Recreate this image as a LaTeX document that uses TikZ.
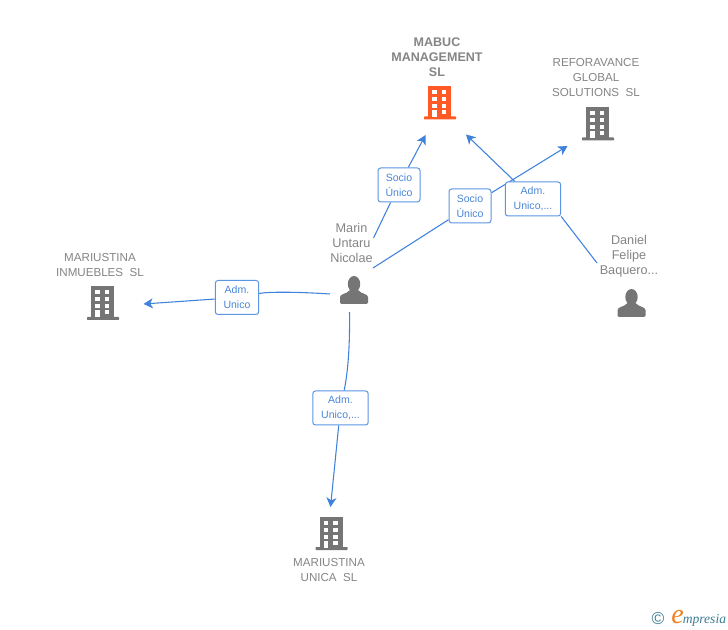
\documentclass[tikz,border=0pt]{standalone}
\usepackage{fontspec}
\setmainfont{Liberation Sans}
\newfontfamily\logofont{Liberation Serif}
\usetikzlibrary{arrows.meta}
\pgfdeclarelayer{paper}
\pgfdeclarelayer{links}
\pgfsetlayers{paper,links,main}
\definecolor{linkblue}{HTML}{3F82DE}
\definecolor{labelblue}{HTML}{4A86D8}
\definecolor{namegrey}{HTML}{858585}
\definecolor{icongrey}{HTML}{757575}
\definecolor{iconorange}{HTML}{FF5A26}
\definecolor{logoteal}{HTML}{3C7F96}
\definecolor{logoorange}{HTML}{F08020}
\tikzset{
  nametext/.style={text=namegrey,font=\fontsize{8.7}{11.25}\selectfont,align=center,inner sep=0pt},
  boldname/.style={nametext,font=\fontsize{9.4}{11.25}\bfseries\selectfont},
  personname/.style={nametext,font=\fontsize{9.5}{11.25}\selectfont},
  linkbox/.style={draw=linkblue!85,fill=white,rounded corners=2pt,line width=0.75pt,text=labelblue,
    font=\fontsize{7.9}{11}\selectfont,align=center,inner sep=0pt,minimum height=25.5pt},
  link/.style={draw=linkblue,line width=0.8pt},
  arrowlink/.style={link,-{Stealth[length=7pt,width=7.5pt,inset=2pt]}},
}
\newcommand{\buildingicon}[3]{%
  \begin{scope}[shift={(#1,#2)}]
    \fill[#3] (-11.5,-15.5) rectangle (11.5,15.5);
    \fill[#3,rounded corners=0.5pt] (-15.5,15) rectangle (16.5,18);
    \foreach \wx in {-7.3,2} {
      \foreach \wy in {-11.5,-4.5,2.5} {
        \fill[white] (\wx,\wy) rectangle ++(4.7,4);
      }
    }
    \fill[white] (-7.3,8.5) rectangle (-2.6,15.5);
    \fill[white] (2,8.5) rectangle (6.7,12.5);
  \end{scope}}
\newcommand{\personicon}[3]{%
  \begin{scope}[shift={(#1,#2)}]
    \fill[#3] (0,-6.5) ellipse (6.2 and 8);
    \fill[#3,rounded corners=1pt] (-14,13.5) -- (-14,8) .. controls (-14,3) and (-7,3.5) .. (-4,-1) -- (4,-1)
      .. controls (7,3.5) and (14,3) .. (14,8) -- (14,13.5) -- cycle;
  \end{scope}}
\begin{document}
\begin{tikzpicture}[x=0.75pt,y=-0.75pt]
\useasboundingbox (0,0) rectangle (728,630);
\begin{pgfonlayer}{paper}
\fill[white] (0,0) rectangle (728,630);
\end{pgfonlayer}

\buildingicon{439.5}{101.5}{iconorange}
\buildingicon{597.5}{122.5}{icongrey}
\buildingicon{102.5}{302}{icongrey}
\buildingicon{331}{532}{icongrey}
\personicon{354}{290.5}{icongrey}
\personicon{631.5}{303.5}{icongrey}

\node[boldname] (mabuc) at (437,57) {MABUC\\MANAGEMENT\\SL};
\node[nametext] (refor) at (596,78) {REFORAVANCE\\GLOBAL\\SOLUTIONS\ \ SL};
\node[nametext] (inmue) at (100,265) {MARIUSTINA\\INMUEBLES\ \ SL};
\node[nametext] (unica) at (329,570) {MARIUSTINA\\UNICA\ \ SL};
\node[personname] (marin) at (351.5,243) {Marin\\Untaru\\Nicolae};
\node[personname] (daniel) at (629,256) {Daniel\\Felipe\\Baquero...};

\coordinate (toMabucA) at (425.5,135);
\coordinate (toMabucB) at (466,134.5);
\coordinate (toRefor) at (567.5,146);
\coordinate (toInmue) at (143.5,304);
\coordinate (toUnica) at (330.5,507);
\coordinate (fromMarinA) at (373.5,238);
\coordinate (fromMarinB) at (373,268);
\coordinate (fromMarinC) at (330,294);
\coordinate (fromMarinD) at (349.5,312);
\coordinate (fromDaniel) at (597,263);

\node[linkbox,minimum width=31.5pt] (s1) at (399,185) {Socio\\Único};
\node[linkbox,minimum width=31.5pt] (s2) at (470,206) {Socio\\Único};
\node[linkbox,minimum width=41.5pt] (a1) at (533,199) {Adm.\\Unico,...};
\node[linkbox,minimum width=32.5pt] (a2) at (237,297.5) {Adm.\\Unico};
\node[linkbox,minimum width=41.5pt] (a3) at (340.5,408) {Adm.\\Unico,...};

\begin{pgfonlayer}{links}
\draw[link] (fromMarinA) -- (s1);
\draw[arrowlink] (s1) -- (toMabucA);
\draw[link] (fromMarinB) -- (s2);
\draw[arrowlink] (s2) -- (toRefor);
\draw[link] (fromDaniel) -- (a1.south east);
\draw[arrowlink] (a1) -- (toMabucB);
\draw[link] (fromMarinC) .. controls (300,292) and (270,291.5) .. (a2);
\draw[arrowlink] (a2) -- (toInmue);
\draw[link] (fromMarinD) .. controls (350,345) and (348,372) .. (a3);
\draw[arrowlink] (a3) -- (toUnica);
\end{pgfonlayer}

\node[inner sep=0pt,text=logoteal,font=\fontsize{13}{13}\selectfont] (copy) at (658,619) {©};
\node[inner sep=0pt,text=logoorange,font=\logofont\itshape\fontsize{21}{21}\selectfont] (logoe) at (677.5,617) {e};
\node[inner sep=0pt,anchor=west,text=logoteal,font=\logofont\itshape\fontsize{10.2}{10}\selectfont] (logo) at (682.5,620) {mpresia};
\end{tikzpicture}
\end{document}
